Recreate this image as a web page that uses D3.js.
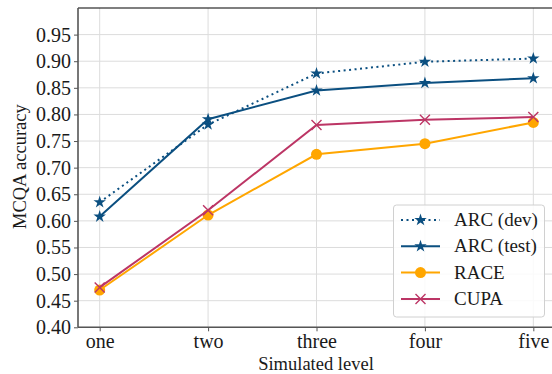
<!DOCTYPE html>
<html><head><meta charset="utf-8">
<script src="https://cdn.jsdelivr.net/npm/d3@7"></script>
</head><body style="margin:0">
<svg id="c" width="552" height="374"></svg>
<script>
const levels = ["one","two","three","four","five"];
const yTicks = [0.40,0.45,0.50,0.55,0.60,0.65,0.70,0.75,0.80,0.85,0.90,0.95];
const arcDev  = [0.635,0.781,0.877,0.899,0.905];
const arcTest = [0.608,0.791,0.845,0.859,0.868];
const race    = [0.470,0.611,0.725,0.745,0.785];
const cupa    = [0.475,0.620,0.780,0.790,0.795];
const seriesNames = ["ARC (dev)","ARC (test)","RACE","CUPA"];

const FONT = "Liberation Serif";

const series = [
  {name:seriesNames[0], values:arcDev, color:"#0b4f80", dash:"2,3.5", marker:"star"},
  {name:seriesNames[1], values:arcTest, color:"#0b4f80", dash:null, marker:"star"},
  {name:seriesNames[2], values:race, color:"#ffa600", dash:null, marker:"circle"},
  {name:seriesNames[3], values:cupa, color:"#bc3565", dash:null, marker:"x"}
];

const svg = d3.select("#c");
const L=78, R=555, T=8, B=327.3;
const x = d3.scalePoint().domain(levels).range([L,R]).padding(0.2);
const y = d3.scaleLinear().domain([0.4,1.0]).range([B,T]);

const g = svg.append("g");
g.selectAll(".hg").data(yTicks).join("line")
  .attr("x1",L).attr("x2",R).attr("y1",d=>y(d)).attr("y2",d=>y(d))
  .attr("stroke","#dcdcdc").attr("stroke-width",1);
g.selectAll(".vg").data(levels).join("line")
  .attr("y1",T).attr("y2",B).attr("x1",d=>x(d)).attr("x2",d=>x(d))
  .attr("stroke","#dcdcdc").attr("stroke-width",1);

svg.append("line").attr("x1",L).attr("x2",R).attr("y1",T).attr("y2",T).attr("stroke","#000").attr("stroke-width",1.2);

const ya = svg.append("g").attr("transform",`translate(${L},0)`)
  .call(d3.axisLeft(y).tickValues(yTicks).tickFormat(d3.format(".2f")).tickSize(4).tickPadding(3));
const xa = svg.append("g").attr("transform",`translate(0,${B})`)
  .call(d3.axisBottom(x).tickSize(4).tickPadding(3));
[ya,xa].forEach(a=>{
  a.attr("font-family",null).attr("font-size",null);
  a.select(".domain").attr("stroke","#555").attr("stroke-width",1.6);
  a.selectAll(".tick line").attr("stroke","#555");
  a.selectAll("text").attr("fill","#1a1a1a").style("font-family",FONT).attr("font-size",20);
});
ya.select(".domain").attr("d",`M0,${B}V${T}`);
xa.select(".domain").attr("d",`M${L},0H${R}`);

svg.append("text").attr("x",(L+552)/2+1).attr("y",370).attr("text-anchor","middle")
  .style("font-family",FONT).attr("font-size",18.5).attr("fill","#1a1a1a").text("Simulated level");
svg.append("text").attr("transform",`translate(26,${(T+B)/2 - 1}) rotate(-90)`).attr("text-anchor","middle")
  .style("font-family",FONT).attr("font-size",18.5).attr("fill","#1a1a1a").text("MCQA accuracy");

const star = d3.symbol().type(d3.symbolStar).size(48);
function drawMarker(sel, m, color){
  if(m==="star") sel.append("path").attr("d",star()).attr("fill",color);
  else if(m==="circle") sel.append("circle").attr("r",5.5).attr("fill",color);
  else sel.append("path").attr("d","M-5,-5L5,5M-5,5L5,-5").attr("stroke",color).attr("stroke-width",1.4).attr("fill","none");
}

const line = d3.line().x((d,i)=>x(levels[i])).y(d=>y(d));
series.forEach(s=>{
  svg.append("path").attr("d",line(s.values)).attr("fill","none").attr("stroke",s.color)
    .attr("stroke-width",2).attr("stroke-dasharray",s.dash);
  s.values.forEach((v,i)=>{
    const gm = svg.append("g").attr("transform",`translate(${x(levels[i])},${y(v)})`);
    drawMarker(gm,s.marker,s.color);
  });
});

const lg = svg.append("g");
lg.append("rect").attr("x",393.5).attr("y",205).attr("width",151).attr("height",112).attr("rx",3)
  .attr("fill","rgba(255,255,255,0.85)").attr("stroke","#d0d0d0").attr("stroke-width",1);
series.forEach((s,i)=>{
  const yy = 220 + i*26.3;
  lg.append("line").attr("x1",401).attr("x2",440).attr("y1",yy).attr("y2",yy)
    .attr("stroke",s.color).attr("stroke-width",2).attr("stroke-dasharray",s.dash);
  const gm = lg.append("g").attr("transform",`translate(420.5,${yy})`);
  drawMarker(gm,s.marker,s.color);
  lg.append("text").attr("x",454).attr("y",yy+6).style("font-family",FONT).attr("font-size",19).attr("fill","#1a1a1a").text(s.name);
});
</script></body></html>
